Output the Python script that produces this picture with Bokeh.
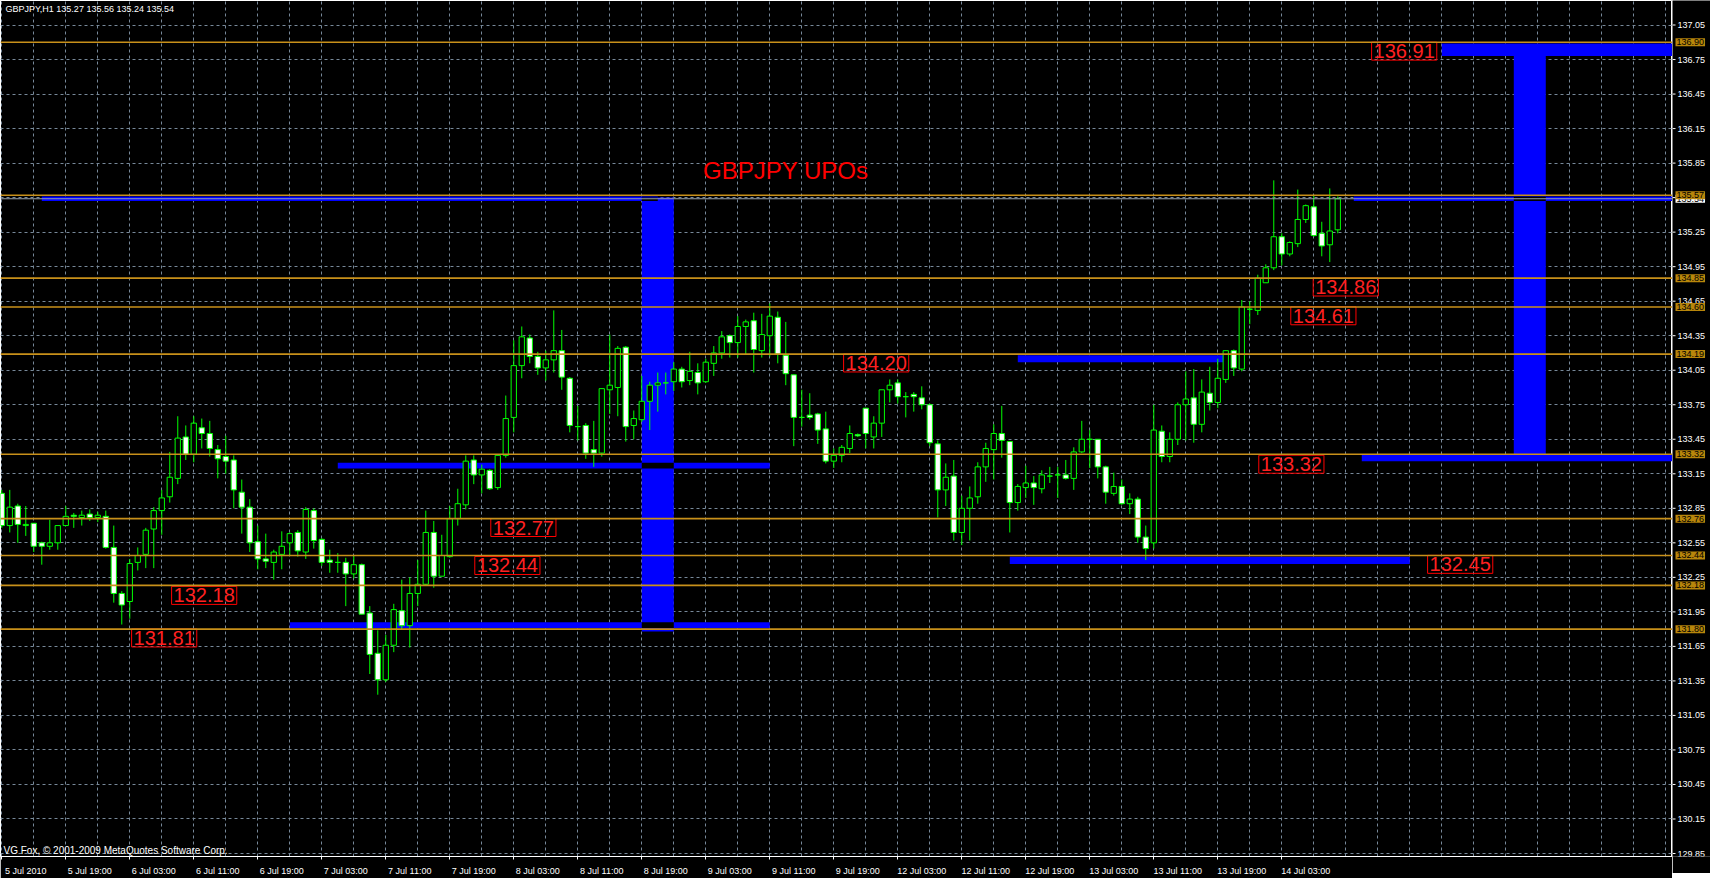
import numpy as np
from bokeh.plotting import figure
from bokeh.layouts import row
from bokeh.models import Range1d, FixedTicker, Label, Span
from bokeh.core.properties import value
from bokeh.embed import file_html
from bokeh.resources import INLINE

# ---------------- data ----------------
header_text = "GBPJPY,H1  135.27 135.56 135.24 135.54"
chart_title = "GBPJPY UPOs"
copyright_text = "VG Fox, © 2001-2009 MetaQuotes Software Corp."

opens = [132.98,132.70,132.87,132.70,132.72,132.55,132.52,132.55,132.70,132.79,
         132.77,132.80,132.77,132.78,132.51,132.11,132.04,132.38,132.45,132.67,
         132.83,132.95,133.11,133.47,133.32,133.55,133.50,133.36,133.30,133.27,
         132.99,132.86,132.56,132.41,132.38,132.45,132.55,132.64,132.47,132.83,
         132.58,132.40,132.38,132.38,132.28,132.36,131.94,131.59,131.36,131.66,
         131.96,131.83,132.11,132.19,132.64,132.26,132.43,132.76,132.88,133.27,
         133.14,133.18,133.03,133.31,133.64,134.09,134.33,134.17,134.07,134.14,
         134.22,133.98,133.56,133.57,133.36,133.33,133.88,133.90,134.25,133.57,
         133.62,133.78,133.92,133.94,133.95,134.06,133.96,134.03,133.95,134.11,
         134.20,134.35,134.29,134.43,134.48,134.22,134.35,134.51,134.18,134.01,
         133.64,133.66,133.67,133.54,133.26,133.31,133.37,133.49,133.72,133.47,
         133.59,133.88,133.94,133.82,133.84,133.81,133.75,133.41,133.01,133.13,
         132.64,132.85,132.95,133.21,133.36,133.50,133.43,132.90,133.03,133.07,
         133.02,133.13,133.14,133.14,133.11,133.34,133.45,133.45,133.21,132.98,
         133.04,132.89,132.93,132.60,132.55,133.52,133.30,133.45,133.75,133.81,
         133.58,133.85,133.77,133.97,134.22,134.06,134.58,134.57,134.81,134.94,
         135.21,135.06,135.15,135.36,135.47,135.24,135.14,135.27]
highs = [133.01,133.01,132.89,132.87,132.72,132.56,132.75,132.70,132.87,132.81,
         132.83,132.84,132.82,132.83,132.70,132.13,132.41,132.51,132.68,132.86,
         133.01,133.34,133.65,133.57,133.65,133.63,133.61,133.40,133.48,133.31,
         133.10,132.93,132.70,132.63,132.49,132.65,132.64,132.66,132.86,132.85,
         132.59,132.49,132.46,132.42,132.44,132.37,132.00,131.79,131.75,132.02,
         132.23,132.25,132.40,132.83,132.74,132.62,132.87,133.02,133.31,133.31,
         133.23,133.19,133.32,133.83,134.31,134.43,134.36,134.21,134.22,134.57,
         134.40,133.99,133.74,133.59,133.61,133.89,134.36,134.26,134.26,133.70,
         134.00,133.95,134.03,134.03,134.12,134.08,134.21,134.11,134.15,134.26,
         134.39,134.36,134.52,134.49,134.55,134.54,134.63,134.56,134.47,134.01,
         133.88,133.85,133.68,133.69,133.37,133.40,133.57,133.50,133.72,133.65,
         133.88,133.97,133.97,133.86,133.86,133.91,133.76,133.44,133.24,133.27,
         132.96,133.04,133.25,133.42,133.58,133.74,133.43,133.06,133.22,133.13,
         133.18,133.21,133.21,133.27,133.38,133.61,133.53,133.45,133.22,133.16,
         133.10,132.98,132.95,132.70,133.75,133.57,133.51,133.77,134.04,134.06,
         133.97,134.08,134.15,134.22,134.23,134.66,134.65,134.88,134.97,135.70,
         135.24,135.17,135.62,135.49,135.57,135.34,135.63,135.56]
lows = [132.68,132.64,132.55,132.61,132.47,132.36,132.49,132.49,132.70,132.68,
        132.70,132.74,132.73,132.50,132.03,131.84,131.89,132.31,132.33,132.33,
        132.62,132.90,133.06,133.27,133.25,133.37,133.30,133.11,133.15,132.85,
        132.63,132.47,132.32,132.33,132.23,132.32,132.44,132.43,132.41,132.50,
        132.35,132.29,132.29,132.00,132.24,131.93,131.41,131.23,131.34,131.60,
        131.80,131.64,132.00,132.18,132.16,132.26,132.42,132.70,132.84,133.06,
        132.98,133.01,133.01,133.29,133.51,133.98,134.11,134.01,133.96,134.03,
        133.88,133.51,133.44,133.28,133.21,133.30,133.67,133.65,133.43,133.45,
        133.60,133.53,133.69,133.84,133.87,133.90,133.92,133.84,133.94,134.00,
        134.15,134.16,134.16,134.19,134.03,134.16,134.17,134.11,133.92,133.39,
        133.56,133.62,133.41,133.24,133.20,133.25,133.33,133.47,133.37,133.37,
        133.47,133.77,133.76,133.64,133.69,133.71,133.39,132.77,132.87,132.57,
        132.53,132.57,132.89,133.08,133.10,133.29,132.64,132.83,132.94,132.88,
        132.98,133.07,132.94,133.10,133.01,133.33,133.20,133.11,132.89,132.96,
        132.88,132.80,132.55,132.40,132.50,133.25,133.25,133.40,133.44,133.42,
        133.51,133.70,133.72,133.94,134.00,134.04,134.45,134.53,134.81,134.92,
        134.96,135.04,135.12,135.33,135.21,135.04,134.99,135.24]
closes = [132.70,132.86,132.71,132.71,132.52,132.52,132.55,132.70,132.78,132.78,
          132.79,132.77,132.79,132.51,132.11,132.01,132.37,132.44,132.66,132.83,
          132.94,133.12,133.46,133.32,133.59,133.50,133.37,133.28,133.26,133.01,
          132.86,132.55,132.41,132.39,132.47,132.52,132.63,132.48,132.84,132.57,
          132.38,132.38,132.38,132.28,132.36,131.93,131.58,131.36,131.66,131.97,
          131.83,132.11,132.19,132.64,132.26,132.44,132.76,132.89,133.26,133.14,
          133.19,133.02,133.31,133.63,134.09,134.34,134.17,134.07,134.14,134.22,
          133.99,133.57,133.56,133.33,133.33,133.89,133.92,134.24,133.56,133.63,
          133.78,133.92,133.94,133.94,134.06,133.95,134.04,133.94,134.12,134.20,
          134.34,134.29,134.43,134.47,134.23,134.36,134.52,134.19,134.02,133.64,
          133.64,133.64,133.53,133.26,133.31,133.38,133.50,133.48,133.50,133.59,
          133.88,133.92,133.82,133.82,133.82,133.75,133.42,133.01,133.12,132.64,
          132.85,132.94,133.21,133.37,133.50,133.44,132.90,133.04,133.07,133.03,
          133.14,133.13,133.14,133.11,133.34,133.45,133.45,133.21,132.99,133.04,
          132.89,132.93,132.60,132.50,133.53,133.30,133.45,133.75,133.80,133.58,
          133.86,133.77,133.98,134.22,134.07,134.60,134.58,134.85,134.94,135.21,
          135.06,135.16,135.36,135.48,135.22,135.13,135.26,135.54]

# time axis: one label every 8 H1 bars (bar 0 = 5 Jul 2010 11:00)
time_labels = ["5 Jul 2010", "5 Jul 19:00", "6 Jul 03:00", "6 Jul 11:00", "6 Jul 19:00",
               "7 Jul 03:00", "7 Jul 11:00", "7 Jul 19:00", "8 Jul 03:00", "8 Jul 11:00",
               "8 Jul 19:00", "9 Jul 03:00", "9 Jul 11:00", "9 Jul 19:00", "12 Jul 03:00",
               "12 Jul 11:00", "12 Jul 19:00", "13 Jul 03:00", "13 Jul 11:00", "13 Jul 19:00",
               "14 Jul 03:00"]
label_step = 8
price_ticks = [129.85, 130.15, 130.45, 130.75, 131.05, 131.35, 131.65, 131.95, 132.25,
               132.55, 132.85, 133.15, 133.45, 133.75, 134.05, 134.35, 134.65, 134.95,
               135.25, 135.55, 135.85, 136.15, 136.45, 136.75, 137.05]

# horizontal price levels (orange lines with axis tags)
level_prices = [136.90, 135.57, 134.85, 134.60, 134.19, 133.32, 132.76, 132.44, 132.18, 131.80]
bid_price = 135.54

# blue zones: bar index from/to, price bottom/top (right=215 -> runs to chart edge)
zone_left = [5, 80, 42, 36, 127, 126, 169, 189, 180, 170]
zone_right = [82, 84, 96, 96, 153, 176, 215, 193, 215, 215]
zone_bottom = [135.52, 131.78, 133.195, 131.81, 134.12, 132.365, 135.52, 133.32, 136.78, 133.26]
zone_top = [135.56, 135.55, 133.245, 131.86, 134.18, 132.43, 135.56, 136.78, 136.89, 133.32]

# red text markers
marker_text = ["136.91", "134.86", "134.61", "134.20", "133.32", "132.77", "132.44",
               "132.45", "132.18", "131.81"]
marker_bar = [175.3, 168.0, 165.2, 109.3, 161.2, 65.2, 63.2, 182.3, 25.3, 20.3]
title_bar, title_price = 98.0, 135.785

# ---------------- figure ----------------
FW, FH = 1672, 856
PX_BAR = 8.0          # pixels per H1 bar
PX_PRICE = 115.07     # pixels per 1.00 of price
x_start = -0.16
x_end = x_start + FW / PX_BAR
y_end = 137.263
y_start = y_end - FH / PX_PRICE
BOTTOM = 17

chart = figure(frame_width=FW, frame_height=FH, x_range=Range1d(x_start, x_end),
               y_range=Range1d(y_start, y_end), output_backend="svg",
               toolbar_location=None, y_axis_location=None,
               background_fill_color="black", border_fill_color="black",
               min_border_left=0, min_border_top=0, min_border_right=0,
               min_border_bottom=BOTTOM)
chart.outline_line_color = "white"
chart.outline_line_width = 1

GRID = "#778899"
FONT = "Liberation Sans"

label_bars = [i * label_step for i in range(len(time_labels))]
chart.xaxis.ticker = FixedTicker(ticks=[b + 3 for b in label_bars], minor_ticks=label_bars)
chart.xaxis.major_label_overrides = {b + 3: t for b, t in zip(label_bars, time_labels)}
chart.xaxis.major_tick_line_color = None
chart.xaxis.minor_tick_line_color = "white"
chart.xaxis.minor_tick_in = 0
chart.xaxis.minor_tick_out = 3
chart.xaxis.axis_line_color = "white"
chart.xaxis.major_label_text_color = "white"
chart.xaxis.major_label_text_font = FONT
chart.xaxis.major_label_text_font_size = "9px"
chart.xaxis.major_label_standoff = 3

chart.xgrid.ticker = FixedTicker(ticks=list(range(0, int(x_end) + 1, 4)))
chart.ygrid.ticker = FixedTicker(ticks=price_ticks)
for g in (chart.xgrid, chart.ygrid):
    g.grid_line_color = GRID
    g.grid_line_dash = "3 3"
    g.grid_line_width = 1

# blue zones, overlapping parts inverted to black
chart.quad(left=zone_left, right=zone_right, bottom=zone_bottom, top=zone_top,
           fill_color="#0000FF", line_color=None)
ol, orr, ob, ot = [], [], [], []
nz = len(zone_left)
for a in range(nz):
    for b in range(a + 1, nz):
        l_ = max(zone_left[a], zone_left[b]); r_ = min(zone_right[a], zone_right[b])
        b_ = max(zone_bottom[a], zone_bottom[b]); t_ = min(zone_top[a], zone_top[b])
        if r_ > l_ and t_ > b_:
            ol.append(l_); orr.append(r_); ob.append(b_); ot.append(t_)
if ol:
    chart.quad(left=ol, right=orr, bottom=ob, top=ot, fill_color="black", line_color=None)

# candles
o = np.array(opens); c = np.array(closes); h = np.array(highs); lo = np.array(lows)
idx = np.arange(len(o))
bull = c >= o
chart.segment(x0=idx, y0=h, x1=idx, y1=lo, line_color="#00FF00", line_width=1)
chart.vbar(x=idx, width=0.66, top=np.maximum(o, c), bottom=np.minimum(o, c),
           fill_color=np.where(bull, "black", "white").tolist(), line_color="#00FF00",
           line_width=1)

# level lines
chart.add_layout(Span(location=bid_price, dimension="width", line_color="#9AA3AD",
                      line_width=1))
for lv in level_prices:
    chart.add_layout(Span(location=lv, dimension="width", line_color="#C8901A",
                          line_width=1.6))

# red markers
chart.text(x=marker_bar, y=[float(t) for t in marker_text], text=marker_text,
           text_color="#FF2020", text_font=value(FONT), text_font_size="20px",
           text_align="center", text_baseline="middle", padding=2, y_offset=10,
           border_line_color="#FF0000", border_line_width=1, background_fill_color=None)

# title
chart.add_layout(Label(x=title_bar, y=title_price, text=chart_title, text_color="#FF0000",
                       text_font=FONT, text_font_size="24px", text_align="center",
                       text_baseline="middle"))

# header and copyright
chart.add_layout(Label(x=5, y=FH - 3, x_units="screen", y_units="screen",
                       text=header_text, text_color="white", text_font=FONT,
                       text_font_size="9px", text_baseline="top"))
chart.add_layout(Label(x=3, y=1, x_units="screen", y_units="screen", text=copyright_text,
                       text_color="white", text_font=FONT, text_font_size="10px",
                       text_baseline="bottom"))

# ---------------- price scale strip (right) ----------------
SW = 38
strip = figure(frame_width=SW, frame_height=FH, x_range=Range1d(0, SW),
               y_range=chart.y_range, output_backend="svg", toolbar_location=None,
               x_axis_location=None, y_axis_location=None,
               background_fill_color="black", border_fill_color="black",
               min_border_left=0, min_border_top=0, min_border_right=0,
               min_border_bottom=BOTTOM)
strip.outline_line_color = None
strip.xgrid.visible = False
strip.ygrid.visible = False

strip.segment(x0=0, y0=price_ticks, x1=3, y1=price_ticks, line_color="white", line_width=1)
strip.text(x=5, y=price_ticks, text=[f"{t:.2f}" for t in price_ticks], text_color="white",
           text_font=value(FONT), text_font_size="9px", text_baseline="middle")
strip.text(x=[3], y=[bid_price], text=[f"{bid_price:.2f}"], text_color="black",
           text_font=value(FONT), text_font_size="9px", text_baseline="middle",
           background_fill_color="white", padding=1)
strip.text(x=3, y=level_prices, text=[f"{lv:.2f}" for lv in level_prices],
           text_color="black", text_font=value(FONT), text_font_size="9px",
           text_baseline="middle", background_fill_color="#B8860B", padding=1)

p = row(chart, strip)
open("out.html", "w").write(file_html(p, INLINE))
